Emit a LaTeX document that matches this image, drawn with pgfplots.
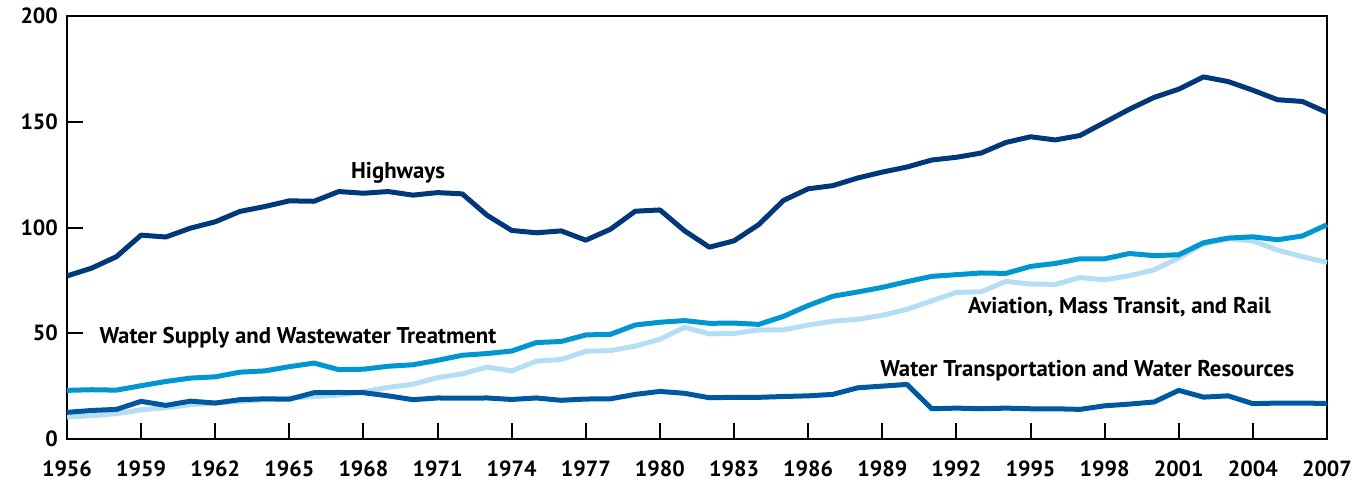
\documentclass[border=0pt]{standalone}
\usepackage{fontspec}
\setmainfont{PT Sans}
\usepackage{pgfplots}
\usepackage{pgfplotstable}
\pgfplotsset{compat=1.18}
\definecolor{hw}{HTML}{00387A}
\definecolor{wt}{HTML}{00599E}
\definecolor{ws}{HTML}{0096CF}
\definecolor{av}{HTML}{B5DEF5}
\pgfplotstableread{
year hw ws av wt
1956 77.1 23.0 10.4 12.6
1957 80.8 23.3 11.0 13.5
1958 86.2 23.1 12.0 14.0
1959 96.4 25.2 13.8 17.8
1960 95.5 27.2 14.8 15.9
1961 99.7 28.8 16.2 17.9
1962 102.7 29.4 17.0 17.0
1963 107.6 31.6 17.8 18.6
1964 109.9 32.2 18.6 19.0
1965 112.6 34.2 19.4 18.8
1966 112.4 35.9 20.0 21.9
1967 117.0 32.8 20.8 22.0
1968 116.2 33.0 22.4 21.9
1969 117.0 34.4 24.4 20.4
1970 115.3 35.1 25.9 18.6
1971 116.5 37.2 29.0 19.4
1972 115.9 39.6 30.8 19.3
1973 105.8 40.4 34.0 19.4
1974 98.6 41.6 32.2 18.7
1975 97.5 45.6 36.8 19.4
1976 98.4 46.1 37.6 18.3
1977 94.0 49.2 41.5 18.9
1978 99.2 49.5 41.8 19.0
1979 107.7 53.9 43.9 21.1
1980 108.3 55.2 47.2 22.5
1981 98.4 56.0 52.8 21.6
1982 90.7 54.7 49.7 19.5
1983 93.7 54.8 49.9 19.7
1984 101.4 54.2 51.6 19.7
1985 112.8 58.0 51.6 20.1
1986 118.3 63.1 53.9 20.4
1987 119.8 67.5 55.7 21.1
1988 123.4 69.5 56.6 24.2
1989 126.2 71.7 58.5 25.0
1990 128.6 74.4 61.3 25.8
1991 131.9 76.9 65.3 14.3
1992 133.2 77.7 69.3 14.6
1993 135.2 78.5 69.6 14.3
1994 140.2 78.3 74.5 14.6
1995 142.9 81.6 73.3 14.3
1996 141.4 83.0 73.1 14.3
1997 143.5 85.2 76.3 14.0
1998 149.7 85.2 75.3 15.7
1999 155.9 87.7 77.2 16.5
2000 161.5 86.7 80.0 17.5
2001 165.4 87.1 85.6 23.0
2002 171.2 92.8 92.2 19.8
2003 169.0 95.0 94.7 20.4
2004 164.9 95.6 93.7 16.7
2005 160.4 94.2 89.3 17.0
2006 159.6 96.0 86.2 17.0
2007 154.4 101.3 83.5 16.8
}\datatable
\begin{document}
\begin{tikzpicture}
\begin{axis}[
  scale only axis, width=630pt, height=211.5pt,
  xmin=1956, xmax=2007, ymin=0, ymax=200,
  xtick={1956,1959,...,2007}, ytick={0,50,...,200},
  axis line style={line width=1pt},
  tick style={line width=1pt, black},
  major tick length=8pt,
  tick align=inside,
  xtick pos=bottom, ytick pos=left,
  tick label style={font=\bfseries\fontsize{11}{13}\selectfont},
  /pgf/number format/assume math mode=true,
  /pgf/number format/set thousands separator={},
  xticklabel style={yshift=-7.5pt},
  yticklabel style={xshift=-1pt},
  clip=false,
  every axis plot/.append style={line width=2.5pt, line join=round, no markers},
]
\addplot[av] table[x=year,y=av] {\datatable};
\addplot[ws] table[x=year,y=ws] {\datatable};
\addplot[wt] table[x=year,y=wt] {\datatable};
\addplot[hw] table[x=year,y=hw] {\datatable};
\node[font=\bfseries\fontsize{11.4}{13}\selectfont] at (axis cs:1969.4,126) {Highways};
\node[font=\bfseries\fontsize{11.4}{13}\selectfont] at (axis cs:1965.35,48.1) {Water Supply and Wastewater Treatment};
\node[font=\bfseries\fontsize{11.4}{13}\selectfont] at (axis cs:1998.6,62.3) {Aviation, Mass Transit, and Rail};
\node[font=\bfseries\fontsize{11.4}{13}\selectfont] at (axis cs:1997.3,32.5) {Water Transportation and Water Resources};
\end{axis}
\path ([shift={(-33.5pt,-24pt)}]current axis.south west) rectangle ([shift={(17.5pt,8pt)}]current axis.north east);
\end{tikzpicture}
\end{document}
